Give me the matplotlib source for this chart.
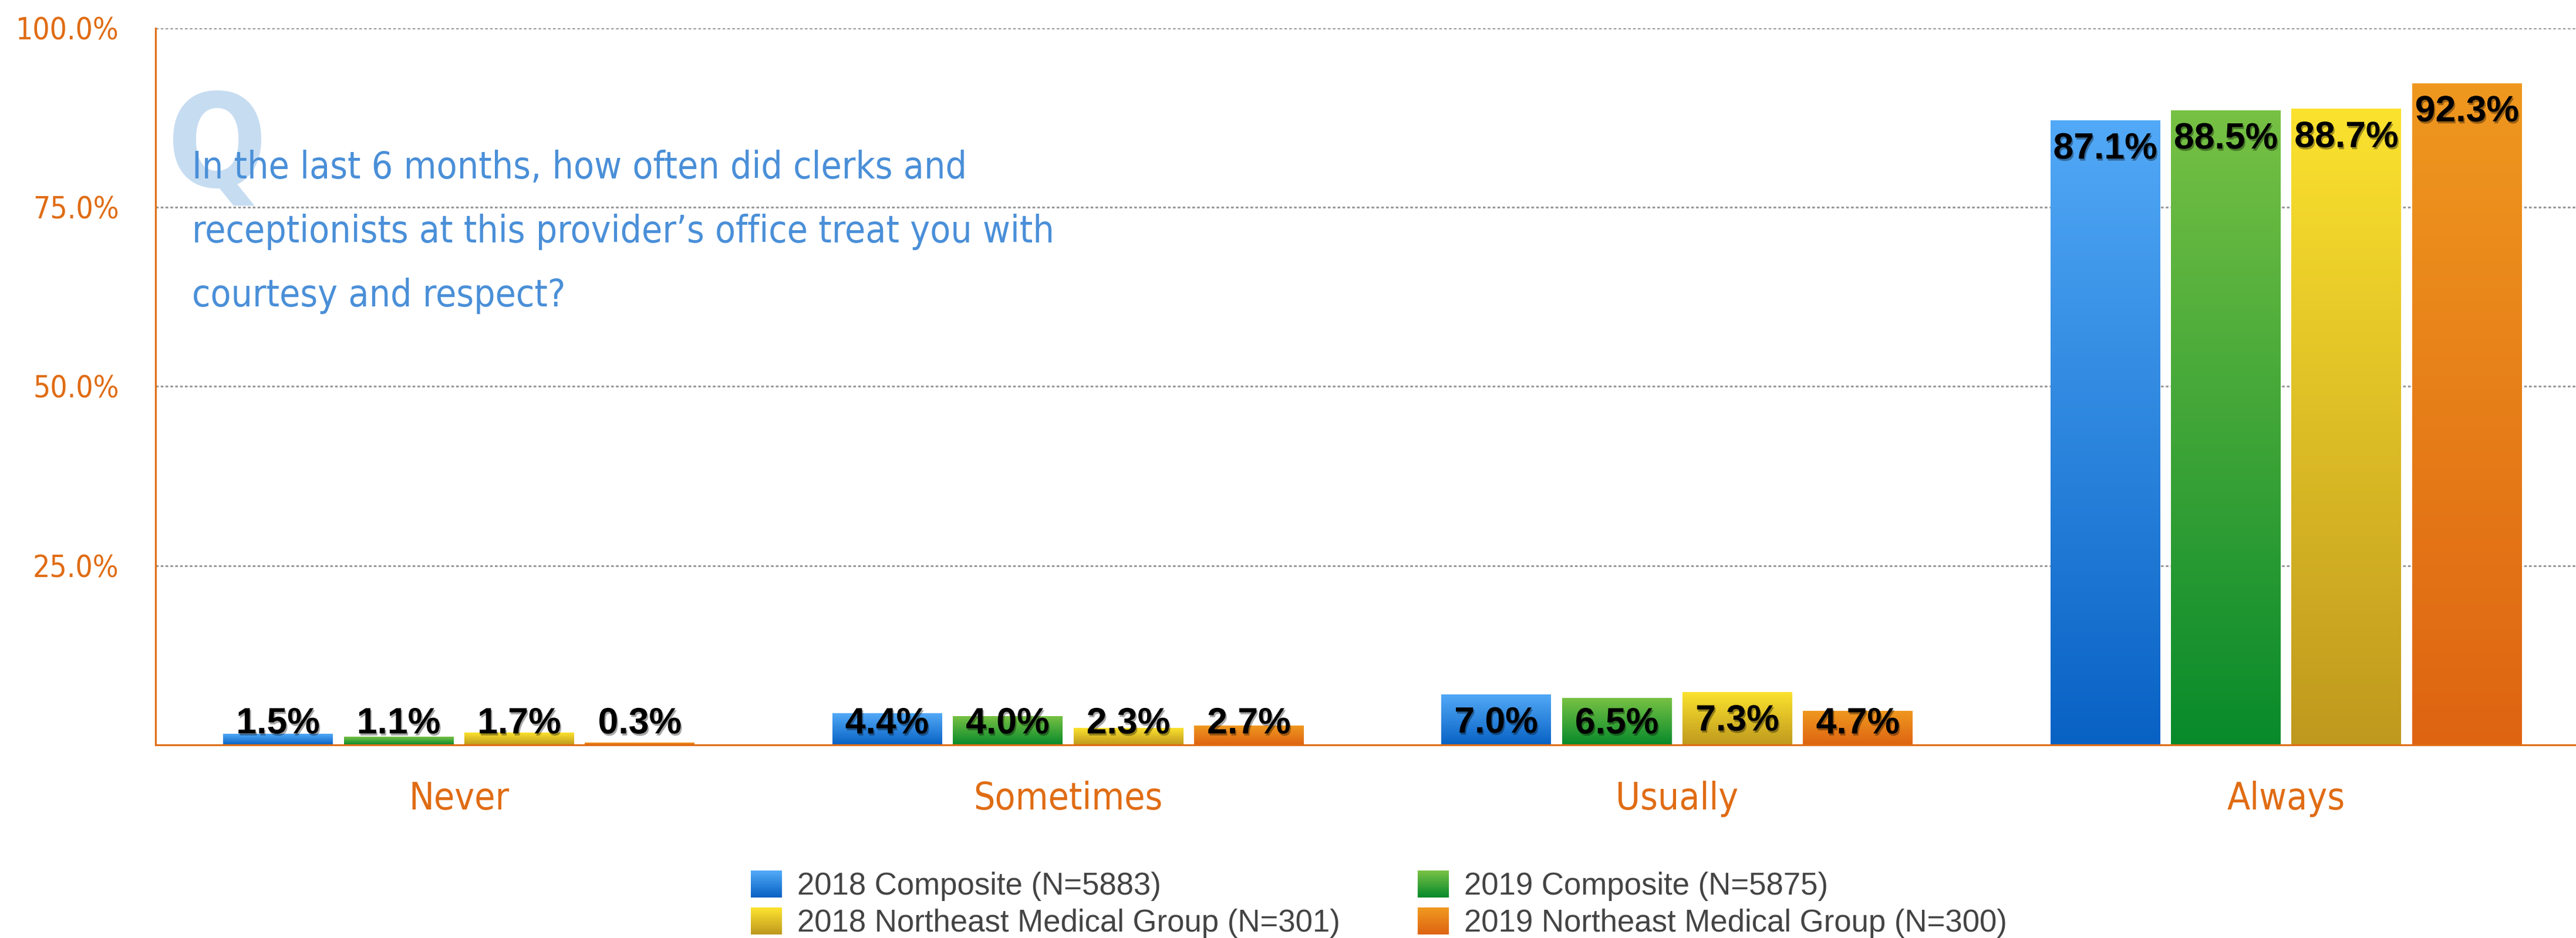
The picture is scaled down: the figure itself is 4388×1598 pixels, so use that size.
import matplotlib
matplotlib.use('Agg')
import matplotlib.pyplot as plt
import numpy as np
from matplotlib.colors import LinearSegmentedColormap
from matplotlib.patches import Rectangle
from matplotlib.legend_handler import HandlerBase
from matplotlib.font_manager import FontProperties, fontManager
import matplotlib.patheffects as pe

# %% Data

categories = ['Never', 'Sometimes', 'Usually', 'Always']
series = ['2018 Composite (N=5883)', '2019 Composite (N=5875)',
          '2018 Northeast Medical Group (N=301)', '2019 Northeast Medical Group (N=300)']
comp_2018 = [1.5, 4.4, 7.0, 87.1]
comp_2019 = [1.1, 4.0, 6.5, 88.5]
nmg_2018 = [1.7, 2.3, 7.3, 88.7]
nmg_2019 = [0.3, 2.7, 4.7, 92.3]
yticks = [25, 50, 75, 100]
question = ['In the last 6 months, how often did clerks and',
            'receptionists at this provider\u2019s office treat you with',
            'courtesy and respect?']

# couleurs (haut, bas) du dégradé
grad_cols = [('#52a9f7', '#0862c4'),
             ('#77c144', '#088a2b'),
             ('#fbe22e', '#bf991e'),
             ('#ef981f', '#de6412')]

orange = '#e06c14'
W, H = 4388, 1598

# police étroite si dispo
cond = None
for f in fontManager.ttflist:
    st = f.stretch
    is_cond = ('Narrow' in f.name or 'Condensed' in f.name
               or (isinstance(st, str) and 'condensed' in st)
               or (isinstance(st, (int, float)) and st < 500))
    if is_cond and f.weight in (400, 'normal', 'regular', 'book'):
        cond = (f.name, st)
        break

if cond:
    narrow = lambda: FontProperties(family=cond[0], stretch=cond[1])
    sz_tick, sz_cat, sz_q, sz_Q = 37, 46, 46, 160
else:
    narrow = lambda: FontProperties(family=['Liberation Sans', 'DejaVu Sans'])
    sz_tick, sz_cat, sz_q, sz_Q = 36, 44, 44, 155

# %% Figure

fig = plt.figure(figsize=(W / 100, H / 100), dpi=100)
ax = fig.add_axes([265 / W, 1 - 1269 / H, 1 - 265 / W, 1221 / H])

x = np.arange(len(categories))
bw = 0.18
step = 0.198
offsets = (np.arange(4) - 1.5) * step

for vals, off, (top, bot) in zip([comp_2018, comp_2019, nmg_2018, nmg_2019], offsets, grad_cols):
    bars = ax.bar(x + off, vals, width=bw, color=top, zorder=2)
    cmap = LinearSegmentedColormap.from_list('g', [bot, top])
    for b, v in zip(bars, vals):
        x0, w, h = b.get_x(), b.get_width(), b.get_height()
        ax.imshow(np.linspace(0, 1, 256).reshape(-1, 1), cmap=cmap, origin='lower',
                  extent=[x0, x0 + w, 0, h], aspect='auto', zorder=2.5)
        ax.text(x0 + w / 2, max(v - 5.3, 1.6), f'{v:.1f}%', ha='center', va='baseline',
                fontsize=45, fontweight='bold', family=['Liberation Sans', 'DejaVu Sans'],
                color='black', zorder=4,
                path_effects=[pe.withSimplePatchShadow(offset=(1.5, -2.5), shadow_rgbFace='black', alpha=0.35)])

ax.set_xlim(-0.498, 3.476)
ax.set_ylim(0, 100)
ax.set_yticks(yticks)
ax.set_yticklabels([f'{t:.1f}%' for t in yticks])
ax.set_xticks(x)
ax.set_xticklabels(categories)
ax.tick_params(axis='y', length=0, pad=45, labelcolor=orange)
ax.tick_params(axis='x', length=0, pad=44, labelcolor=orange)
for lab in ax.get_yticklabels():
    lab.set_fontproperties(narrow())
    lab.set_fontsize(sz_tick)
for lab in ax.get_xticklabels():
    lab.set_fontproperties(narrow())
    lab.set_fontsize(sz_cat)

ax.yaxis.grid(True, color='#9a9a9a', linestyle=(0, (1.5, 1.2)), linewidth=2.2, zorder=0)
ax.set_axisbelow(True)
for s in ['top', 'right']:
    ax.spines[s].set_visible(False)
for s in ['left', 'bottom']:
    ax.spines[s].set_color(orange)
    ax.spines[s].set_linewidth(2.2)
    ax.spines[s].set_zorder(5)

# %% Question

fpQ = narrow()
fpQ.set_weight('bold')
fpQ.set_size(sz_Q)
fig.text(285 / W, 1 - 318 / H, 'Q', fontproperties=fpQ,
         color='#c6dcf1', ha='left', va='baseline', zorder=1)
for line, yb in zip(question, [304, 413, 522]):
    fp = narrow()
    fp.set_size(sz_q)
    fig.text(327 / W, 1 - yb / H, line, fontproperties=fp, color='#4a8fd8',
             ha='left', va='baseline', zorder=3)

# %% Légende


class Swatch:
    def __init__(self, top, bot):
        self.top, self.bot = top, bot


class GradientHandler(HandlerBase):
    def create_artists(self, legend, orig_handle, xdescent, ydescent, width, height, fontsize, trans):
        cmap = LinearSegmentedColormap.from_list('g', [orig_handle.bot, orig_handle.top])
        n = 24
        arts = []
        for i in range(n):
            r = Rectangle((-xdescent, -ydescent + i * height / n), width, height / n + 0.3,
                          facecolor=cmap(i / (n - 1)), edgecolor='none', transform=trans)
            arts.append(r)
        return arts


handles = [Swatch(*grad_cols[i]) for i in [0, 2, 1, 3]]
labels = [series[i] for i in [0, 2, 1, 3]]
fig.legend(handles, labels, handler_map={Swatch: GradientHandler()}, ncol=2,
           loc='upper left', bbox_to_anchor=(1279 / W, 1 - 1483 / H), frameon=False,
           prop={'family': ['Liberation Sans', 'DejaVu Sans'], 'size': 38},
           labelcolor='#444444', handlelength=1.0, handleheight=0.95, handletextpad=0.5,
           columnspacing=2.5, labelspacing=0.22, borderpad=0, borderaxespad=0)

plt.savefig('out.png', dpi=100)
